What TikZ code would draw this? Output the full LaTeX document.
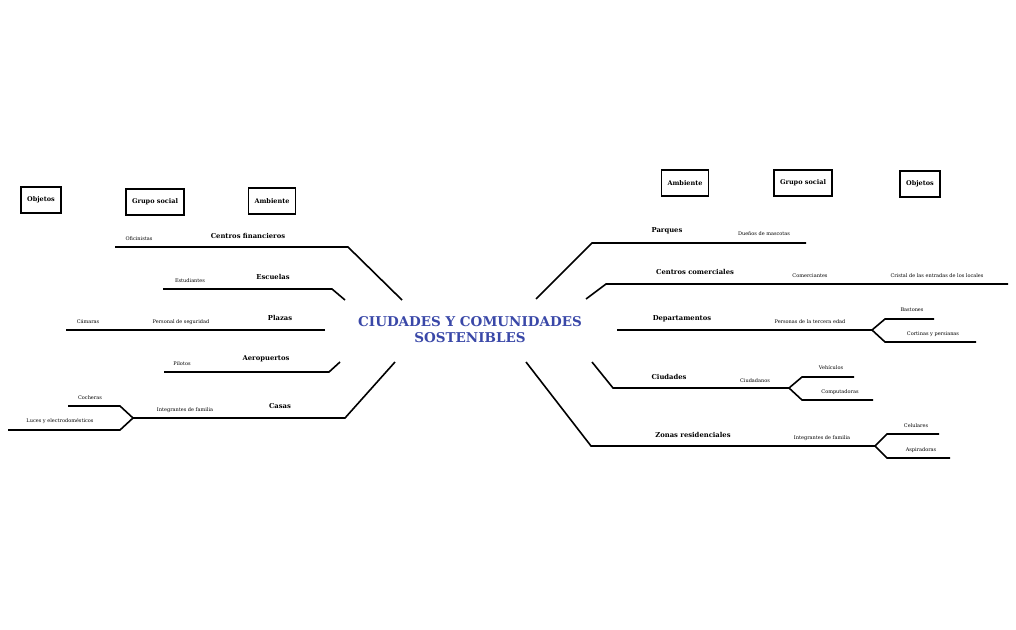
\documentclass[tikz,border=0pt]{standalone}
\usepackage{fontspec}
\setmainfont{DejaVu Serif}
\definecolor{ttl}{HTML}{3A48A8}
\begin{document}
\begin{tikzpicture}[x=1pt,y=-1pt,
  ln/.style={line width=1.6pt,line join=miter},
  bx/.style={draw,line width=1.6pt,minimum height=26pt,inner xsep=6pt,font=\bfseries\fontsize{6.5}{7}\selectfont},
  big/.style={font=\bfseries\fontsize{6.8}{8}\selectfont},
  sm/.style={font=\fontsize{5}{6}\selectfont}]
\useasboundingbox (0,0) rectangle (1016,629);
\node[font=\bfseries\fontsize{13.5}{16}\selectfont,text=ttl,align=center] (t) at (470,330) {CIUDADES Y COMUNIDADES\\SOSTENIBLES};
% boxes
\node[bx] (lo) at (41,200) {Objetos};
\node[bx] (lg) at (155,202) {Grupo social};
\node[bx] (la) at (272,201) {Ambiente};
\node[bx] (ra) at (685,183) {Ambiente};
\node[bx] (rg) at (803,183) {Grupo social};
\node[bx] (ro) at (920,184) {Objetos};
% left coordinates
\coordinate (a0) at (402,300); \coordinate (a1) at (348,247); \coordinate (a2) at (115,247);
\coordinate (b0) at (345,300); \coordinate (b1) at (332,289); \coordinate (b2) at (163,289);
\coordinate (c1) at (325,330); \coordinate (c2) at (66,330);
\coordinate (d0) at (340,362); \coordinate (d1) at (329,372); \coordinate (d2) at (164,372);
\coordinate (e0) at (395,362); \coordinate (e1) at (345,418); \coordinate (e2) at (133,418);
\coordinate (e3) at (120,406); \coordinate (e4) at (68,406);
\coordinate (e5) at (120,430); \coordinate (e6) at (8,430);
\draw[ln] (a0)--(a1)--(a2);
\draw[ln] (b0)--(b1)--(b2);
\draw[ln] (c1)--(c2);
\draw[ln] (d0)--(d1)--(d2);
\draw[ln] (e0)--(e1)--(e2);
\draw[ln] (e2)--(e3)--(e4);
\draw[ln] (e2)--(e5)--(e6);
\node[big] (n1) at (248,236) {Centros financieros};
\node[sm] (n2) at (139,239) {Oficinistas};
\node[big] (n3) at (273,277) {Escuelas};
\node[sm] (n4) at (190,281) {Estudiantes};
\node[big] (n5) at (280,318) {Plazas};
\node[sm] (n6) at (181,322) {Personal de seguridad};
\node[sm] (n7) at (88,322) {Cámaras};
\node[big] (n8) at (266,359) {Aeropuertos};
\node[sm] (n9) at (182,364) {Pilotos};
\node[big] (n10) at (280,406) {Casas};
\node[sm] (n11) at (185,410) {Integrantes de familia};
\node[sm] (n12) at (90,398) {Cocheras};
\node[sm] (n13) at (60,421) {Luces y electrodomésticos};
% right coordinates
\coordinate (p0) at (536,299); \coordinate (p1) at (592,243); \coordinate (p2) at (806,243);
\coordinate (q0) at (586,299); \coordinate (q1) at (606,284); \coordinate (q2) at (1008,284);
\coordinate (r1) at (617,330); \coordinate (r2) at (872,330);
\coordinate (r3) at (885,319); \coordinate (r4) at (934,319);
\coordinate (r5) at (885,342); \coordinate (r6) at (976,342);
\coordinate (s0) at (592,362); \coordinate (s1) at (613,388); \coordinate (s2) at (789,388);
\coordinate (s3) at (802,377); \coordinate (s4) at (854,377);
\coordinate (s5) at (802,400); \coordinate (s6) at (873,400);
\coordinate (z0) at (526,362); \coordinate (z1) at (591,446); \coordinate (z2) at (875,446);
\coordinate (z3) at (887,434); \coordinate (z4) at (939,434);
\coordinate (z5) at (887,458); \coordinate (z6) at (950,458);
\draw[ln] (p0)--(p1)--(p2);
\draw[ln] (q0)--(q1)--(q2);
\draw[ln] (r1)--(r2);
\draw[ln] (r2)--(r3)--(r4);
\draw[ln] (r2)--(r5)--(r6);
\draw[ln] (s0)--(s1)--(s2);
\draw[ln] (s2)--(s3)--(s4);
\draw[ln] (s2)--(s5)--(s6);
\draw[ln] (z0)--(z1)--(z2);
\draw[ln] (z2)--(z3)--(z4);
\draw[ln] (z2)--(z5)--(z6);
\node[big] (m1) at (667,231) {Parques};
\node[sm] (m2) at (764,234) {Dueños de mascotas};
\node[big] (m3) at (695,272) {Centros comerciales};
\node[sm] (m4) at (810,276) {Comerciantes};
\node[sm] (m5) at (937,276) {Cristal de las entradas de los locales};
\node[big] (m6) at (682,319) {Departamentos};
\node[sm] (m7) at (810,322) {Personas de la tercera edad};
\node[sm] (m8) at (912,310) {Bastones};
\node[sm] (m9) at (933,334) {Cortinas y persianas};
\node[big] (m10) at (669,377) {Ciudades};
\node[sm] (m11) at (755,381) {Ciudadanos};
\node[sm] (m12) at (831,368) {Vehículos};
\node[sm] (m13) at (840,392) {Computadoras};
\node[big] (m14) at (693,435) {Zonas residenciales};
\node[sm] (m15) at (822,438) {Integrantes de familia};
\node[sm] (m16) at (916,426) {Celulares};
\node[sm] (m17) at (921,450) {Aspiradoras};
\end{tikzpicture}
\end{document}
